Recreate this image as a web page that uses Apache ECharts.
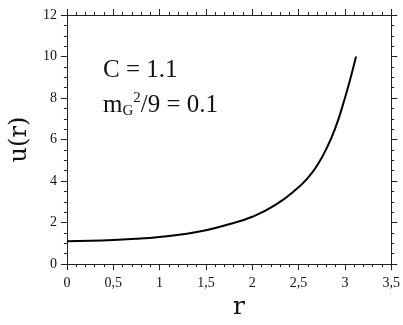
<!DOCTYPE html>
<html>
<head>
<meta charset="utf-8">
<script src="https://cdn.jsdelivr.net/npm/echarts@6/dist/echarts.min.js"></script>
<style>
  html, body { margin: 0; padding: 0; background: #fff; }
  #main { width: 403px; height: 325px; }
</style>
</head>
<body>
<div id="main"></div>
<script>
// values
var rValues = [0, 0.25, 0.5, 0.75, 1.0, 1.25, 1.5, 1.75, 2.0, 2.25, 2.5, 2.6, 2.7, 2.8, 2.9, 3.0, 3.06, 3.12];
var uValues = [1.10, 1.12, 1.16, 1.22, 1.31, 1.44, 1.63, 1.92, 2.28, 2.85, 3.7, 4.15, 4.75, 5.55, 6.6, 8.0, 8.95, 10.0];
var xTicks = { min: 0, max: 3.5, step: 0.5 };
var yTicks = { min: 0, max: 12, step: 2 };

var SERIF = '"Liberation Serif", "DejaVu Serif", serif';
var AXIS_COLOR = '#222';

var myChart = echarts.init(document.getElementById('main'));

function commaNum(v) {
    return String(v).replace('.', ',');
}

function makeXAxis(pos, showLabel) {
    return {
        type: 'value',
        position: pos,
        min: xTicks.min,
        max: xTicks.max,
        interval: xTicks.step,
        splitLine: { show: false },
        axisLine: { show: true, onZero: false, lineStyle: { color: AXIS_COLOR, width: 1 } },
        axisTick: { show: true, inside: false, length: 6, lineStyle: { color: AXIS_COLOR } },
        minorTick: { show: true, splitNumber: 5, length: 3, lineStyle: { color: AXIS_COLOR } },
        axisLabel: {
            show: showLabel,
            margin: 12,
            color: '#111',
            fontFamily: SERIF,
            fontSize: 14,
            formatter: commaNum
        }
    };
}

function makeYAxis(pos, showLabel) {
    return {
        type: 'value',
        position: pos,
        min: yTicks.min,
        max: yTicks.max,
        interval: yTicks.step,
        splitLine: { show: false },
        axisLine: { show: true, onZero: false, lineStyle: { color: AXIS_COLOR, width: 1 } },
        axisTick: { show: true, inside: false, length: 6, lineStyle: { color: AXIS_COLOR } },
        minorTick: { show: true, splitNumber: 4, length: 3, lineStyle: { color: AXIS_COLOR } },
        axisLabel: {
            show: showLabel,
            margin: 10,
            color: '#111',
            fontFamily: SERIF,
            fontSize: 14
        }
    };
}

var xBottom = makeXAxis('bottom', true);
xBottom.name = 'r';
xBottom.nameLocation = 'middle';
xBottom.nameGap = 30;
xBottom.nameTextStyle = { fontFamily: '"DejaVu Serif", serif', fontSize: 25, color: '#111', padding: [0, 0, 0, 20] };

var yLeft = makeYAxis('left', true);
yLeft.name = 'u(r)';
yLeft.nameLocation = 'middle';
yLeft.nameGap = 31;
yLeft.nameTextStyle = { fontFamily: '"DejaVu Serif", serif', fontSize: 24, color: '#111' };

var option = {
    animation: false,
    backgroundColor: '#fff',
    grid: { left: 63, right: 11, top: 15, bottom: 57 },
    xAxis: [xBottom, makeXAxis('top', false)],
    yAxis: [yLeft, makeYAxis('right', false)],
    series: [{
        type: 'line',
        xAxisIndex: 0,
        yAxisIndex: 0,
        smooth: true,
        showSymbol: false,
        lineStyle: { color: '#000', width: 2 },
        data: rValues.map(function (r, i) { return [r, uValues[i]]; })
    }],
    graphic: [{
        type: 'text',
        left: 103,
        top: 58,
        style: {
            text: 'C = 1.1',
            fill: '#111',
            font: '25px ' + SERIF
        }
    }, {
        type: 'text',
        left: 103,
        top: 91,
        style: {
            text: '{m|m}{sub|G}{sup|2}{m|/9 = 0.1}',
            fill: '#111',
            rich: {
                m: { fontFamily: SERIF, fontSize: 25, lineHeight: 28, verticalAlign: 'middle' },
                sub: { fontFamily: SERIF, fontSize: 15, lineHeight: 15, verticalAlign: 'bottom' },
                sup: { fontFamily: SERIF, fontSize: 15, lineHeight: 15, verticalAlign: 'top' }
            }
        }
    }]
};

myChart.setOption(option);
</script>
</body>
</html>
